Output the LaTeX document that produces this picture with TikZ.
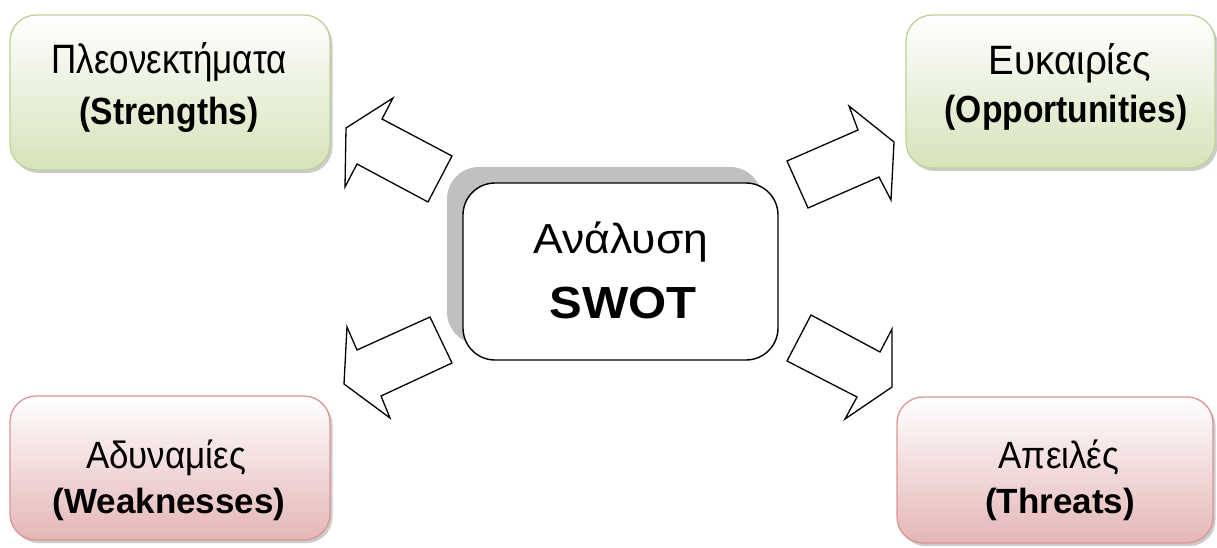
\documentclass[tikz,border=0pt]{standalone}
\usepackage{fontspec}
\setmainfont{Liberation Sans}
\newfontfamily\grk[FakeStretch=0.92]{Liberation Sans}
\usetikzlibrary{shadows}
\definecolor{gborder}{HTML}{BFD296}
\definecolor{gfill}{HTML}{D5E3BA}
\definecolor{rborder}{HTML}{D99694}
\definecolor{rfill}{HTML}{E4B6B5}
\definecolor{cshadowc}{HTML}{C0C0C0}
\tikzset{
  outerbox/.style={rounded corners=26pt, line width=1.3pt, inner sep=0pt,
    drop shadow={shadow xshift=2.5pt, shadow yshift=-3pt, opacity=0.45, fill=black!45}},
  greenbox/.style={outerbox, draw=gborder, top color=white, bottom color=gfill},
  redbox/.style={outerbox, draw=rborder, top color=white, bottom color=rfill},
  centerbox/.style={rounded corners=32pt, line width=1.4pt, draw=black, fill=white,
    inner sep=0pt,
    general shadow={shadow xshift=-16pt, shadow yshift=16pt, fill=cshadowc}},
  grline/.style={anchor=base, inner sep=0pt, font=\grk\fontsize{38}{40}\selectfont},
  bdline/.style={anchor=base, inner sep=0pt, font=\bfseries\fontsize{35}{40}\selectfont},
  blockarrow/.style={draw=black, fill=white, line width=1.3pt, line join=miter}
}
\begin{document}
\begin{tikzpicture}[x=1pt,y=-1pt]
\useasboundingbox (0,0) rectangle (1217,548);
% outer boxes
\node[greenbox, minimum width=320pt, minimum height=155pt] (S) at (170,92.5) {};
\node[greenbox, minimum width=309pt, minimum height=153pt] (O) at (1060.5,91.5) {};
\node[redbox, minimum width=320pt, minimum height=144pt] (W) at (170,468) {};
\node[redbox, minimum width=316pt, minimum height=146pt] (T) at (1055,470) {};
% texts
\node[grline] (S1) at (169,74) {\scalebox{1}[1.08]{Πλεονεκτήματα}};
\node[bdline] (S2) at (169,125) {\scalebox{0.96}[1.08]{(Strengths)}};
\node[grline] (O1) at (1070,75) {\scalebox{1.1}[1.08]{Ευκαιρίες}};
\node[bdline] (O2) at (1066,123) {\scalebox{0.96}[1.08]{(Opportunities)}};
\node[grline] (W1) at (166,468) {Αδυναμίες};
\node[bdline] (W2) at (169,513) {(Weaknesses)};
\node[grline] (T1) at (1059,468) {Απειλές};
\node[bdline] (T2) at (1060,513) {(Threats)};
% centre
\node[centerbox, minimum width=315pt, minimum height=177pt] (C) at (620.5,271.5) {};
\node[anchor=base, inner sep=0pt, font=\fontsize{42}{46}\selectfont] (C1) at (621,253)
  {\scalebox{1.06}[1]{Ανάλυση}};
\node[anchor=base, inner sep=0pt, font=\bfseries\fontsize{45}{50}\selectfont] (C2) at (623,318)
  {\scalebox{1.09}[1]{SWOT}};
% block arrows
\draw[blockarrow] (346,128) -- (393,98) -- (382,119) -- (452,156) -- (428,202)
  -- (357,164) -- (345,187) -- cycle;
\draw[blockarrow] (787,161) -- (858,130) -- (849,106) -- (894,142) -- (891,200)
  -- (879,177) -- (808,208) -- cycle;
\draw[blockarrow] (430,317) -- (357,350) -- (347,327) -- (344,384) -- (390,418)
  -- (381,396) -- (452,363) -- cycle;
\draw[blockarrow] (811,315) -- (880,352) -- (892,329) -- (892,387) -- (845,419)
  -- (857,397) -- (787,361) -- cycle;
\end{tikzpicture}
\end{document}
